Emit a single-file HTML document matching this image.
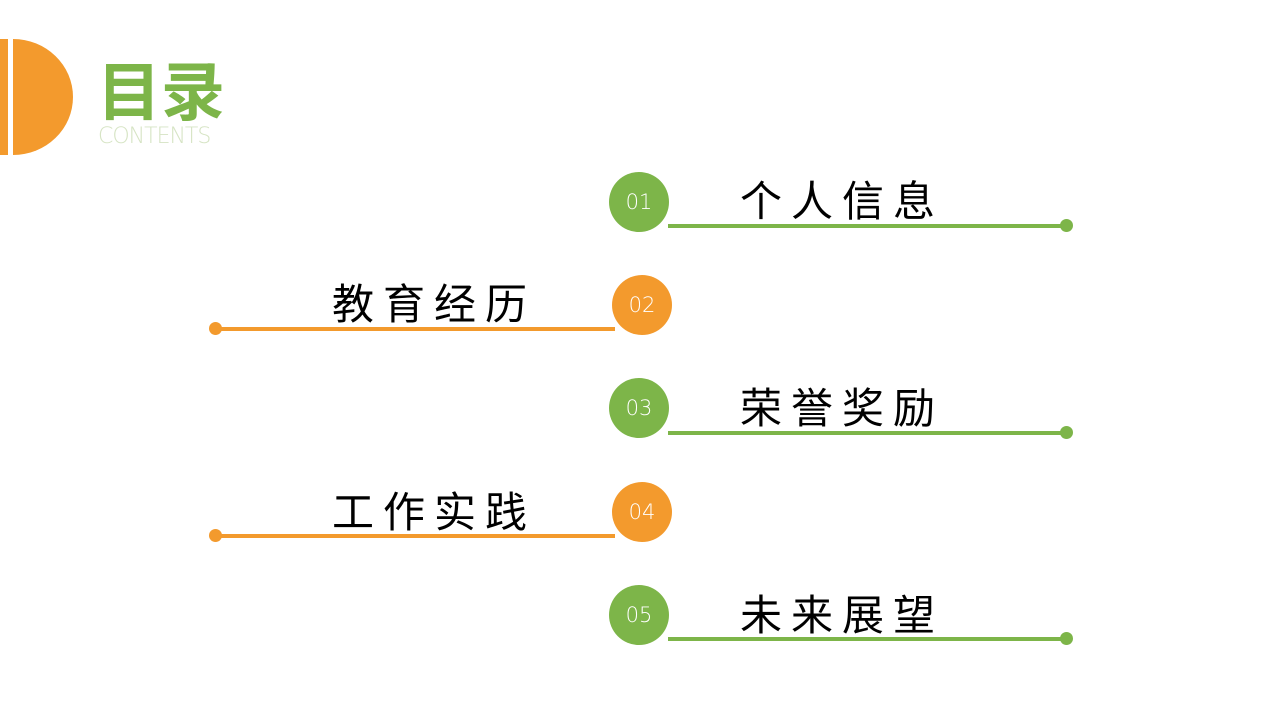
<!DOCTYPE html>
<html><head><meta charset="utf-8"><style>
body{margin:0;width:1280px;height:720px;background:#fff;position:relative;overflow:hidden;font-family:"Liberation Sans","Noto Sans CJK SC",sans-serif}
.a{position:absolute}
.c{position:absolute;width:60px;height:60px;border-radius:50%;color:#fff;font-size:21px;line-height:60px;text-align:center;font-family:"DejaVu Sans",sans-serif;font-weight:200}
.g{background:#7db549}.o{background:#f39a2d}
.t{position:absolute;font-size:42px;letter-spacing:9px;color:#000;font-family:"Noto Sans CJK SC",sans-serif;line-height:50px;white-space:nowrap}
.l{position:absolute;height:4px}
.d{position:absolute;width:13px;height:13px;border-radius:50%}
</style></head><body>
<svg class="a" style="left:0;top:0" width="100" height="170"><rect x="0" y="39" width="8" height="116" fill="#f39a2d"/><path d="M13 39 A60 58 0 0 1 13 155 Z" fill="#f39a2d"/></svg>
<div class="a" style="left:97px;top:50px;font-size:64px;font-weight:bold;color:#7db549;font-family:'Noto Sans CJK SC',sans-serif;line-height:76px">目录</div>
<div class="a" style="left:98px;top:124px;font-size:22px;color:#d6e4c4;font-family:'DejaVu Sans',sans-serif;font-weight:200;letter-spacing:-1px">CONTENTS</div>

<div class="c g" style="left:609px;top:172px">01</div>
<div class="t" style="left:740px;top:174px">个人信息</div>
<div class="l g" style="left:668px;top:224px;width:400px"></div><div class="d g" style="left:1060px;top:219px"></div>

<div class="c o" style="left:612px;top:275px">02</div>
<div class="t" style="left:332px;top:277px">教育经历</div>
<div class="l o" style="left:215px;top:327px;width:400px"></div><div class="d o" style="left:209px;top:322px"></div>

<div class="c g" style="left:609px;top:378px">03</div>
<div class="t" style="left:740px;top:381px">荣誉奖励</div>
<div class="l g" style="left:668px;top:431px;width:400px"></div><div class="d g" style="left:1060px;top:426px"></div>

<div class="c o" style="left:612px;top:482px">04</div>
<div class="t" style="left:332px;top:485px">工作实践</div>
<div class="l o" style="left:215px;top:534px;width:400px"></div><div class="d o" style="left:209px;top:529px"></div>

<div class="c g" style="left:609px;top:585px">05</div>
<div class="t" style="left:740px;top:588px">未来展望</div>
<div class="l g" style="left:668px;top:637px;width:400px"></div><div class="d g" style="left:1060px;top:632px"></div>
</body></html>
